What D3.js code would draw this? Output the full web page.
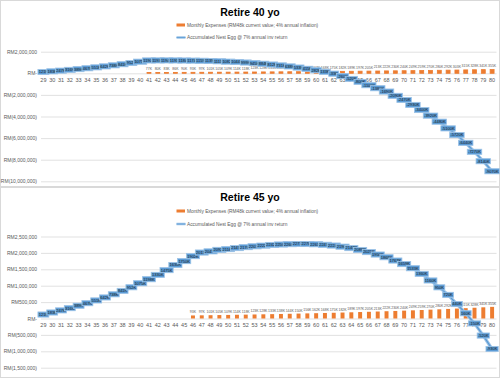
<!DOCTYPE html>
<html>
<head>
<meta charset="utf-8">
<script src="https://cdn.jsdelivr.net/npm/d3@7"></script>
<style>
  body { margin: 0; background: #fff; }
  svg { display: block; font-family: "Liberation Sans", Arial, sans-serif; }
</style>
</head>
<body>
<svg id="chart" width="500" height="378"></svg>
<script>
// Ages on the category axis
const ages = [29, 30, 31, 32, 33, 34, 35, 36, 37, 38, 39, 40, 41, 42, 43, 44, 45, 46, 47, 48, 49, 50,
  51, 52, 53, 54, 55, 56, 57, 58, 59, 60, 61, 62, 63, 64, 65, 66, 67, 68, 69, 70, 71, 72, 73, 74, 75,
  76, 77, 78, 79, 80];

// Yearly expenses in RM thousands, ages 41..80
const expenseAges = [41, 42, 43, 44, 45, 46, 47, 48, 49, 50, 51, 52, 53, 54, 55, 56, 57, 58, 59, 60,
  61, 62, 63, 64, 65, 66, 67, 68, 69, 70, 71, 72, 73, 74, 75, 76, 77, 78, 79, 80];
const expensesK = [77, 80, 83, 86, 90, 93, 97, 101, 105, 109, 114, 118, 123, 128, 133, 138, 144, 150,
  156, 162, 168, 175, 182, 189, 197, 205, 213, 222, 230, 240, 249, 259, 270, 280, 292, 303, 315, 328, 341, 355];

// Accumulated nest egg in RM thousands, ages 29..80
const nestEgg40 = [121, 183, 247, 316, 389, 467, 551, 642, 738, 841, 952, 1075,
  1190, 1193, 1194, 1191, 1184, 1174, 1159, 1139, 1113, 1082, 1044, 999, 945, 884, 812, 731, 638, 533, 415, 282, 133,
  -33, -260, -520, -800, -1100, -1380, -1690, -2090, -2470, -2930, -3400, -3920, -4480, -5100, -5720, -6440, -7270, -8140, -9070];
const nestEgg45 = [121, 183, 247, 316, 389, 467, 551, 642, 738, 841, 952, 1075, 1198, 1330, 1475, 1630, 1750,
  1902, 2011, 2047, 2092, 2116, 2147, 2176, 2201, 2222, 2242, 2256, 2266, 2271, 2270, 2263, 2247, 2224, 2190, 2147, 2089, 2025,
  1950, 1868, 1767, 1659, 1533, 1360, 1160, 950, 720, 440, 160, -150, -520, -930];

// Y axis ticks
const ticks40 = [2000000, 0, -2000000, -4000000, -6000000, -8000000, -10000000];
const ticks45 = [2500000, 2000000, 1500000, 1000000, 500000, 0, -500000, -1000000, -1500000];

const legendExpense = "Monthly Expenses (RM48k current value; 4% annual inflation)";
const legendEgg = "Accumulated Nest Egg @ 7% annual inv return";

const svg = d3.select("#chart");
const blue = "#5b9bd5", lightBlue = "#9dc3e6", orange = "#ed7d31", grid = "#d9d9d9", txt = "#595959";

const x = d3.scaleBand()
  .domain(ages)
  .range([39, 496.5])
  .paddingInner(0.55)
  .paddingOuter(0.275);
const cx = a => x(a) + x.bandwidth() / 2;

const fmtNum = d3.format(",");
const fmtRM = v => v === 0 ? "RM-" : v < 0 ? `RM(${fmtNum(-v)})` : `RM${fmtNum(v)}`;

function drawChart(cfg) {
  const g = svg.append("g");

  // chart frame
  g.append("rect")
    .attr("x", 0.5).attr("y", cfg.top + 0.5)
    .attr("width", 499).attr("height", cfg.height - 1)
    .attr("fill", "#fff").attr("stroke", grid);

  // title
  g.append("text")
    .attr("x", 250).attr("y", cfg.titleY)
    .attr("text-anchor", "middle")
    .attr("font-size", 10.5).attr("font-weight", "bold").attr("fill", "#000")
    .text(cfg.title);

  // legend
  g.append("rect")
    .attr("x", 176.5).attr("y", cfg.legendY1 - 1.5)
    .attr("width", 8.5).attr("height", 3).attr("fill", orange);
  g.append("text")
    .attr("x", 187).attr("y", cfg.legendY1 + 1.6)
    .attr("font-size", 4.8).attr("fill", txt)
    .text(legendExpense);
  g.append("line")
    .attr("x1", 176.5).attr("x2", 185.5)
    .attr("y1", cfg.legendY2).attr("y2", cfg.legendY2)
    .attr("stroke", lightBlue).attr("stroke-width", 2.5);
  g.append("line")
    .attr("x1", 176.5).attr("x2", 185.5)
    .attr("y1", cfg.legendY2).attr("y2", cfg.legendY2)
    .attr("stroke", blue).attr("stroke-width", 0.8);
  g.append("text")
    .attr("x", 187).attr("y", cfg.legendY2 + 1.6)
    .attr("font-size", 4.8).attr("fill", txt)
    .text(legendEgg);

  const y = d3.scaleLinear().domain(cfg.yDomain).range(cfg.yRange);

  // y axis with gridlines
  const yAxis = g.append("g")
    .attr("transform", "translate(41,0)")
    .call(d3.axisLeft(y).tickValues(cfg.ticks).tickFormat(fmtRM).tickSize(-(496.5 - 41)).tickPadding(4));
  yAxis.select(".domain").remove();
  yAxis.selectAll("line").attr("stroke", grid).attr("stroke-width", 0.8);
  yAxis.selectAll("text").attr("font-size", 5).attr("fill", txt).attr("font-family", null);

  // category axis at zero
  const xAxis = g.append("g")
    .attr("transform", `translate(0,${y(0)})`)
    .call(d3.axisBottom(x).tickSize(0).tickPadding(cfg.catPad));
  xAxis.select(".domain").remove();
  xAxis.selectAll("text").attr("font-size", 5.5).attr("fill", txt).attr("font-family", null);

  // expense bars
  const bars = expenseAges.map((a, i) => ({ age: a, v: expensesK[i] * 1000 }))
    .filter(d => d.age > cfg.retireAge);
  g.selectAll(".bar")
    .data(bars)
    .enter()
    .append("rect")
    .attr("class", "bar")
    .attr("x", d => x(d.age))
    .attr("y", d => y(d.v))
    .attr("width", x.bandwidth())
    .attr("height", d => y(0) - y(d.v))
    .attr("fill", orange)
    .attr("stroke", orange)
    .attr("stroke-width", cfg.barStroke);
  g.selectAll(".barlabel")
    .data(bars)
    .enter()
    .append("text")
    .attr("class", "barlabel")
    .attr("x", d => cx(d.age))
    .attr("y", d => y(d.v) - cfg.barLabelGap)
    .attr("text-anchor", "middle")
    .attr("font-size", 3.5).attr("fill", txt)
    .text(d => `${d.v / 1000}K`);

  // nest egg line
  const pts = ages.map((a, i) => ({ age: a, v: cfg.egg[i] * 1000 }));
  const line = d3.line().x(d => cx(d.age)).y(d => y(d.v));
  g.append("path").datum(pts)
    .attr("d", line).attr("fill", "none")
    .attr("stroke", lightBlue).attr("stroke-width", 3.2);
  g.append("path").datum(pts)
    .attr("d", line).attr("fill", "none")
    .attr("stroke", blue).attr("stroke-width", 1.2);

  // data label boxes, each drawn over the previous one
  pts.forEach(d => {
    const lg = g.append("g").attr("transform", `translate(${cx(d.age)},${y(d.v)})`);
    const rect = lg.append("rect").attr("fill", blue).attr("stroke", lightBlue).attr("stroke-width", 0.8);
    const t = lg.append("text")
      .attr("text-anchor", "middle").attr("y", 1.4)
      .attr("font-size", 4).attr("fill", "#1a1a1a")
      .text(`${d.v / 1000}K`);
    const w = t.node().getComputedTextLength() + 1.6;
    rect.attr("x", -w / 2).attr("y", -2.6).attr("width", w).attr("height", 5.2);
  });
}

drawChart({
  top: 0, height: 187, title: "Retire 40 yo", titleY: 15.5,
  legendY1: 25, legendY2: 37.5,
  yDomain: [-10000000, 2000000], yRange: [181.3, 51.7], ticks: ticks40,
  catPad: 4.5, retireAge: 40, egg: nestEgg40, barStroke: 0.8, barLabelGap: 2.5
});

drawChart({
  top: 187, height: 191, title: "Retire 45 yo", titleY: 200.5,
  legendY1: 211, legendY2: 224,
  yDomain: [-1500000, 2500000], yRange: [367.7, 236.5], ticks: ticks45,
  catPad: 4.5, retireAge: 45, egg: nestEgg45, barStroke: 0, barLabelGap: 2
});
</script>
</body>
</html>
